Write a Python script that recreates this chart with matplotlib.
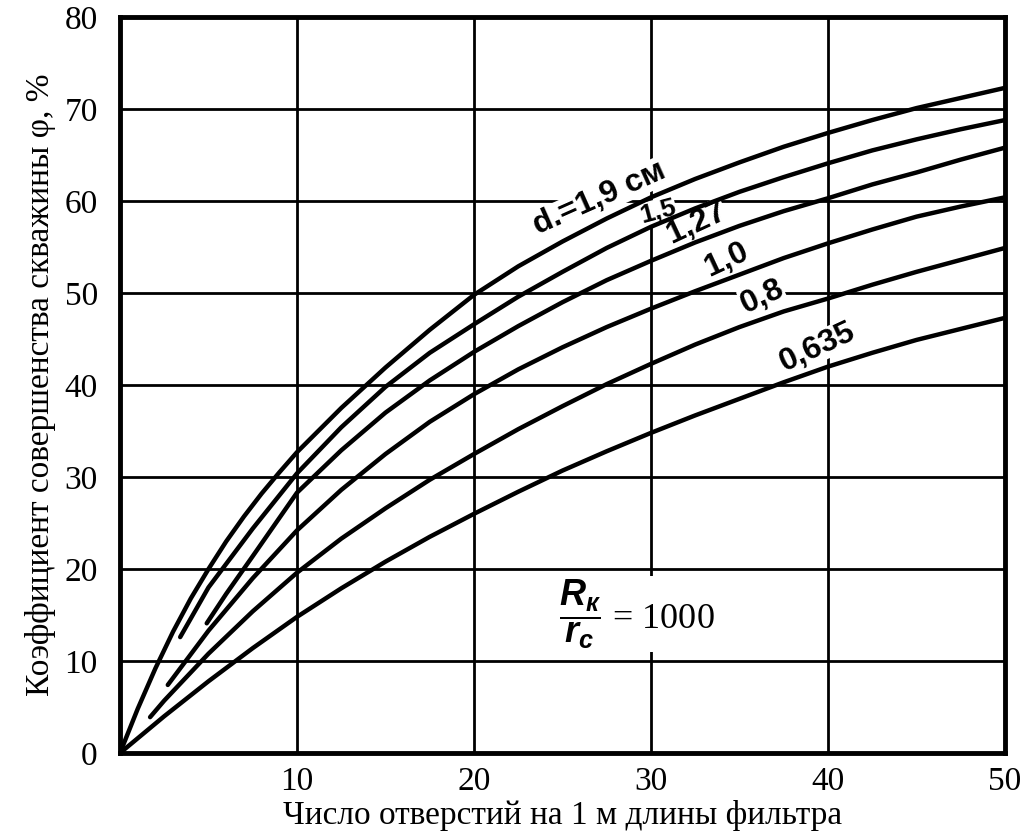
import matplotlib
matplotlib.use('Agg')
import matplotlib.pyplot as plt

plt.rcParams['font.family'] = ['Liberation Serif', 'DejaVu Serif']
plt.rcParams['mathtext.fontset'] = 'custom'
plt.rcParams['mathtext.it'] = 'Liberation Sans:italic:bold'
plt.rcParams['mathtext.rm'] = 'Liberation Serif'

# curves, one per hole diameter d
x_19 = [0, 1, 2, 3, 4, 5, 6, 7, 8, 9, 10, 12.5, 15, 17.5, 20, 22.5, 25, 27.5,
        30, 32.5, 35, 37.5, 40, 42.5, 45, 47.5, 50]
y_19 = [0, 4.8, 9.2, 13.2, 16.8, 20, 23, 25.7, 28.2, 30.5, 32.7, 37.5, 41.9,
        46, 49.8, 52.9, 55.6, 58.1, 60.4, 62.4, 64.2, 65.9, 67.4, 68.8, 70.1,
        71.2, 72.3]

x_15 = [3.4, 5, 7.5, 10, 12.5, 15, 17.5, 20, 22.5, 25, 27.5, 30, 32.5, 35,
        37.5, 40, 42.5, 45, 47.5, 50]
y_15 = [12.6, 18, 24.4, 30.4, 35.4, 39.8, 43.5, 46.6, 49.6, 52.3, 54.9, 57.2,
        59.2, 61.0, 62.6, 64.1, 65.5, 66.7, 67.8, 68.8]

x_127 = [4.9, 6, 7.5, 10, 12.5, 15, 17.5, 20, 22.5, 25, 27.5, 30, 32.5, 35,
         37.5, 40, 42.5, 45, 47.5, 50]
y_127 = [14.1, 17.3, 21.4, 28.3, 32.9, 37, 40.5, 43.6, 46.4, 49, 51.4, 53.5,
         55.5, 57.3, 58.9, 60.3, 61.8, 63.1, 64.5, 65.8]

x_10 = [2.7, 5, 7.5, 10, 12.5, 15, 17.5, 20, 22.5, 25, 27.5, 30, 32.5, 35,
        37.5, 40, 42.5, 45, 47.5, 50]
y_10 = [7.4, 13.3, 19.0, 24.2, 28.6, 32.5, 36, 39, 41.7, 44.1, 46.3, 48.3,
        50.2, 52, 53.8, 55.4, 56.9, 58.3, 59.4, 60.4]

x_08 = [1.7, 2.5, 5, 7.5, 10, 12.5, 15, 17.5, 20, 22.5, 25, 27.5, 30, 32.5,
        35, 37.5, 40, 42.5, 45, 47.5, 50]
y_08 = [3.9, 5.7, 10.8, 15.4, 19.6, 23.3, 26.6, 29.7, 32.5, 35.2, 37.7, 40.1,
        42.3, 44.4, 46.3, 48, 49.4, 50.9, 52.3, 53.6, 54.9]

x_0635 = [0, 2.5, 5, 7.5, 10, 12.5, 15, 17.5, 20, 22.5, 25, 27.5, 30, 32.5,
          35, 37.5, 40, 42.5, 45, 47.5, 50]
y_0635 = [0, 4, 7.8, 11.4, 14.8, 17.9, 20.8, 23.5, 26, 28.4, 30.7, 32.8, 34.8,
          36.7, 38.5, 40.3, 42, 43.5, 44.9, 46.1, 47.3]

curves = [(x_19, y_19), (x_15, y_15), (x_127, y_127),
          (x_10, y_10), (x_08, y_08), (x_0635, y_0635)]

# curve labels: text, x, y, angle, size
labels = [('d.=1,9 см', 27.1, 60.3, 24, 23),
          ('1,5', 30.4, 58.9, 15, 19),
          ('1,27', 32.6, 57.6, 25, 23),
          ('1,0', 34.3, 53.6, 25, 23),
          ('0,8', 36.3, 49.6, 25, 23),
          ('0,635', 39.4, 44.1, 25, 23)]

xticks = [10, 20, 30, 40, 50]
yticks = [0, 10, 20, 30, 40, 50, 60, 70, 80]

fig = plt.figure(figsize=(10.23, 8.38), dpi=100)
ax = fig.add_axes([0.1173, 0.1014, 0.8651, 0.8783])

for xs, ys in curves:
    ax.plot(xs, ys, color='black', lw=3.2, solid_capstyle='round',
            solid_joinstyle='round', zorder=3)

ax.set_xlim(0, 50)
ax.set_ylim(0, 80)
ax.set_xticks(xticks)
ax.set_yticks(yticks)
ax.grid(True, color='black', lw=2)
ax.set_axisbelow(True)
for s in ax.spines.values():
    s.set_linewidth(3.5)
ax.tick_params(axis='both', length=0, labelsize=24)
ax.tick_params(axis='y', pad=16)
ax.tick_params(axis='x', pad=10)

ax.set_xlabel('Число отверстий на 1 м длины фильтра', fontsize=24, labelpad=2)
ax.set_ylabel('Коэффициент совершенства скважины φ, %', fontsize=24, labelpad=6)

for txt, lx, ly, rot, fs in labels:
    ax.text(lx, ly, txt, rotation=rot, ha='center', va='center',
            fontsize=fs, fontweight='bold', family='Liberation Sans',
            rotation_mode='anchor', zorder=2.5,
            bbox=dict(facecolor='white', edgecolor='none', pad=0))

ax.text(29.2, 15.1, r'$\dfrac{\mathit{R_к}}{\mathit{r_c}}$' + ' = 1000',
        ha='center', va='center', fontsize=26, zorder=2.5,
        bbox=dict(facecolor='white', edgecolor='none', pad=1))

fig.savefig('out.png', dpi=100)
